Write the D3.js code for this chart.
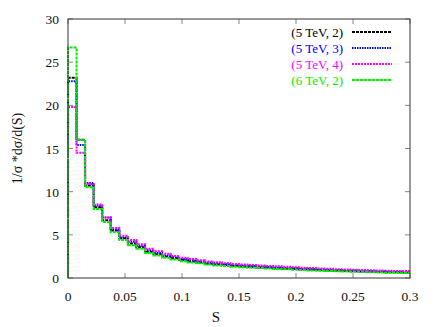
<!DOCTYPE html>
<html>
<head>
<meta charset="utf-8">
<script src="https://cdn.jsdelivr.net/npm/d3@7"></script>
<style>
body { margin: 0; background: #fff; }
</style>
</head>
<body>
<svg id="chart"></svg>
<script>
// chart data: bin edges start at 0, width 0.0075, 40 bins up to 0.3
var binWidth = 0.0075;
var xTicks = [0, 0.05, 0.1, 0.15, 0.2, 0.25, 0.3];
var yTicks = [0, 5, 10, 15, 20, 25, 30];
var labels = ["(5 TeV, 2)", "(5 TeV, 3)", "(5 TeV, 4)", "(6 TeV, 2)"];
var colors = ["#000000", "#0000ff", "#ff00ff", "#00ee00"];

var black = [23.2, 16.0, 10.7, 8.2, 6.7, 5.5, 4.6, 4.0, 3.55, 3.05, 2.75, 2.5, 2.28, 2.08, 1.92, 1.8, 1.66, 1.56, 1.5, 1.4,
             1.34, 1.28, 1.23, 1.18, 1.13, 1.08, 1.03, 1.0, 0.96, 0.92, 0.88, 0.85, 0.82, 0.79, 0.76, 0.73, 0.7, 0.68, 0.66, 0.63];
var blue = [22.8, 15.4, 11.0, 8.4, 7.0, 5.6, 4.7, 4.2, 3.7, 3.2, 2.9, 2.62, 2.4, 2.2, 2.05, 1.9, 1.77, 1.68, 1.6, 1.5,
            1.44, 1.38, 1.32, 1.27, 1.22, 1.17, 1.12, 1.08, 1.04, 1.0, 0.96, 0.92, 0.89, 0.86, 0.83, 0.8, 0.77, 0.75, 0.72, 0.7];
var magenta = [19.8, 14.5, 10.9, 8.5, 7.0, 5.8, 4.9, 4.4, 3.9, 3.4, 3.1, 2.8, 2.55, 2.35, 2.2, 2.05, 1.9, 1.82, 1.72, 1.62,
               1.56, 1.5, 1.45, 1.4, 1.35, 1.3, 1.25, 1.2, 1.15, 1.1, 1.06, 1.02, 0.99, 0.96, 0.93, 0.9, 0.87, 0.85, 0.82, 0.8];
var green = [26.7, 16.0, 10.5, 8.0, 6.5, 5.3, 4.4, 3.8, 3.4, 2.9, 2.6, 2.35, 2.15, 1.95, 1.8, 1.7, 1.55, 1.45, 1.4, 1.3,
             1.25, 1.2, 1.15, 1.1, 1.05, 1.0, 0.95, 0.92, 0.88, 0.85, 0.8, 0.78, 0.75, 0.72, 0.7, 0.67, 0.64, 0.62, 0.6, 0.57];
var series = [black, blue, magenta, green];
var dashes = ["3,1", "1.5,1", "2,1", "3,1"];

var W = 436, H = 327;
var margin = {top: 19, right: 26, bottom: 49, left: 68};
var width = W - margin.left - margin.right,
    height = H - margin.top - margin.bottom;
var font = "'Liberation Serif', 'DejaVu Serif', 'Times New Roman', serif";

var svg = d3.select("#chart").attr("width", W).attr("height", H)
	.style("font-family", font);
var g = svg.append("g").attr("transform", "translate(" + margin.left + "," + margin.top + ")");

var x = d3.scaleLinear().domain([0, 0.3]).range([0, width]);
var y = d3.scaleLinear().domain([0, 30]).range([height, 0]);

//ticks inside on all four sides, gnuplot style
var tickLen = 5;
var tickColor = "#888";
xTicks.forEach(function(t) {
	g.append("line").attr("x1", x(t)).attr("x2", x(t)).attr("y1", height).attr("y2", height - tickLen)
		.attr("stroke", tickColor);
	g.append("line").attr("x1", x(t)).attr("x2", x(t)).attr("y1", 0).attr("y2", tickLen)
		.attr("stroke", tickColor);
	g.append("text").attr("x", x(t)).attr("y", height + 23).attr("text-anchor", "middle")
		.attr("font-family", font).attr("font-size", 13.5).attr("fill", "#111").text(t);
});
yTicks.forEach(function(t) {
	g.append("line").attr("x1", 0).attr("x2", tickLen).attr("y1", y(t)).attr("y2", y(t))
		.attr("stroke", tickColor);
	g.append("line").attr("x1", width).attr("x2", width - tickLen).attr("y1", y(t)).attr("y2", y(t))
		.attr("stroke", tickColor);
	g.append("text").attr("x", -9).attr("y", y(t) + 5).attr("text-anchor", "end")
		.attr("font-family", font).attr("font-size", 13.5).attr("fill", "#111").text(t);
});

//histogram steps
var line = d3.line()
	.x(function(d) { return x(d[0]); })
	.y(function(d) { return y(d[1]); })
	.curve(d3.curveStepAfter);

series.forEach(function(s, k) {
	var pts = [[0, 0]];
	s.forEach(function(v, i) { pts.push([i * binWidth, v]); });
	pts.push([0.3, s[s.length - 1]]);
	g.append("path").attr("d", line(pts))
		.attr("fill", "none")
		.attr("stroke", colors[k])
		.attr("stroke-width", 2)
		.attr("stroke-dasharray", dashes[k]);
});

//border on top
g.append("rect").attr("x", 0).attr("y", 0).attr("width", width).attr("height", height)
	.attr("fill", "none").attr("stroke", "#333").attr("stroke-width", 1);

//legend
labels.forEach(function(l, i) {
	var ly = 32 + i * 16 - margin.top;
	g.append("text").attr("x", 343 - margin.left).attr("y", ly + 5).attr("text-anchor", "end")
		.attr("font-family", font).attr("font-size", 13).attr("fill", colors[i]).text(l);
	g.append("line").attr("x1", 352 - margin.left).attr("x2", 392 - margin.left)
		.attr("y1", ly).attr("y2", ly)
		.attr("stroke", colors[i]).attr("stroke-width", 2).attr("stroke-dasharray", dashes[i]);
});

//axis titles
svg.append("text").attr("x", 216).attr("y", 322).attr("text-anchor", "middle")
	.attr("font-family", font).attr("font-size", 15).attr("fill", "#111").text("S");
svg.append("text").attr("transform", "translate(22," + (margin.top + height / 2) + ") rotate(-90)")
	.attr("text-anchor", "middle").attr("font-family", font).attr("font-size", 14).attr("fill", "#111")
	.text("1/σ *dσ/d(S)");
</script>
</body>
</html>
